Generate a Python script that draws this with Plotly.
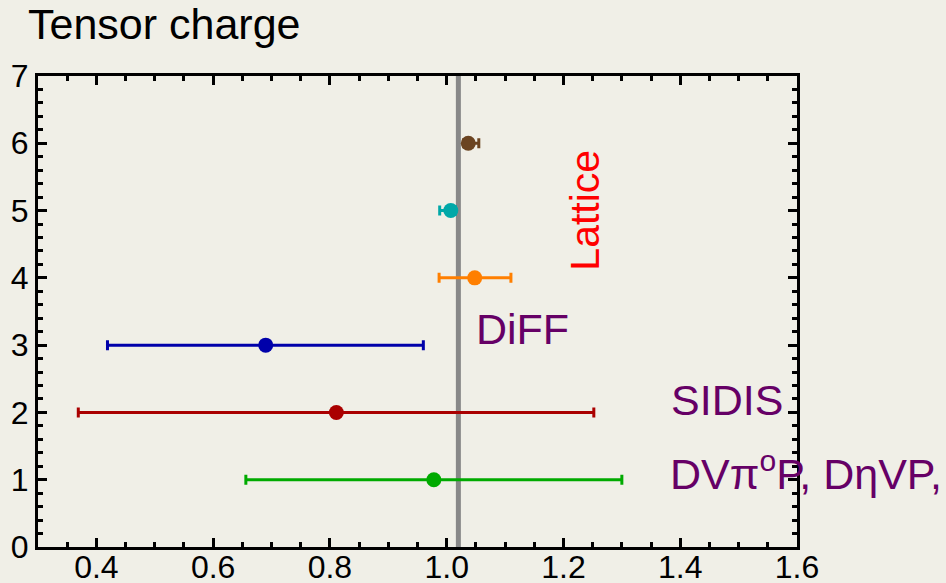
import plotly.graph_objects as go

# data
values = [0.978, 0.811, 0.690, 1.048, 1.007, 1.037]
errors_plus = [0.322, 0.441, 0.270, 0.062, 0.008, 0.018]
errors_minus = [0.322, 0.442, 0.271, 0.061, 0.019, 0.008]
rows = [1, 2, 3, 4, 5, 6]
colors = ["#00AA00", "#AA0000", "#0000AA", "#FF7F00", "#00A8A8", "#6B4421"]
ref_line = 1.02
x_ticks = [0.4, 0.6, 0.8, 1.0, 1.2, 1.4, 1.6]
y_ticks = [0, 1, 2, 3, 4, 5, 6, 7]

bg = "#F0EFE7"
FONT = "Liberation Sans, Arial"
fig = go.Figure()

fig.add_trace(go.Scatter(x=[ref_line, ref_line], y=[0, 7], mode="lines",
                         line=dict(color="#888888", width=5), showlegend=False,
                         hoverinfo="skip"))

for v, ep, em, r, c in zip(values, errors_plus, errors_minus, rows, colors):
    fig.add_trace(go.Scatter(
        x=[v], y=[r], mode="markers",
        marker=dict(color=c, size=15),
        error_x=dict(type="data", symmetric=False, array=[ep], arrayminus=[em],
                     color=c, thickness=3, width=5),
        showlegend=False))

axis_common = dict(showline=True, linecolor="black", linewidth=3, mirror="allticks",
                   ticks="inside", tickcolor="black", tickwidth=3,
                   showgrid=False, zeroline=False, automargin=False,
                   tickfont=dict(family=FONT, size=32, color="black"))

fig.update_xaxes(range=[0.3, 1.6], tickvals=x_ticks,
                 ticktext=[f"{t:.1f}" for t in x_ticks], ticklen=9,
                 ticklabelstandoff=-10,
                 minor=dict(dtick=0.05, tick0=0.3, ticks="inside", ticklen=5,
                            tickwidth=3, tickcolor="black"),
                 **axis_common)
fig.update_yaxes(range=[0, 7], tickvals=y_ticks, ticklen=9,
                 minor=dict(dtick=0.2, tick0=0, ticks="inside", ticklen=5,
                            tickwidth=3, tickcolor="black"),
                 **axis_common)


def px(xd):
    return (xd - 0.3) / 1.3


fig.add_annotation(text="Tensor charge", xref="paper", yref="paper",
                   x=0, xshift=-12, y=1.0, yshift=52, xanchor="left", yanchor="middle",
                   showarrow=False, font=dict(family=FONT, size=43, color="black"))
fig.add_annotation(text="Lattice", xref="paper", x=px(1.237), y=5.0, textangle=-90,
                   xanchor="center", yanchor="middle",
                   showarrow=False, font=dict(family=FONT, size=41, color="#FF0000"))
fig.add_annotation(text="DiFF", xref="paper", x=px(1.046), y=3.24, xanchor="left",
                   showarrow=False, font=dict(family=FONT, size=43, color="#660066"))
fig.add_annotation(text="SIDIS", xref="paper", x=px(1.48), y=2.19, xanchor="center",
                   showarrow=False, font=dict(family=FONT, size=43, color="#660066"))
fig.add_annotation(text="DVπ<sup>o</sup>P, DηVP,", xref="paper", x=px(1.379), y=1.13,
                   xanchor="left", showarrow=False,
                   font=dict(family=FONT, size=43, color="#660066"))

fig.update_layout(width=946, height=583, paper_bgcolor=bg, plot_bgcolor=bg,
                  margin=dict(l=38, r=149, t=76, b=36))

fig.write_html("out.html")
